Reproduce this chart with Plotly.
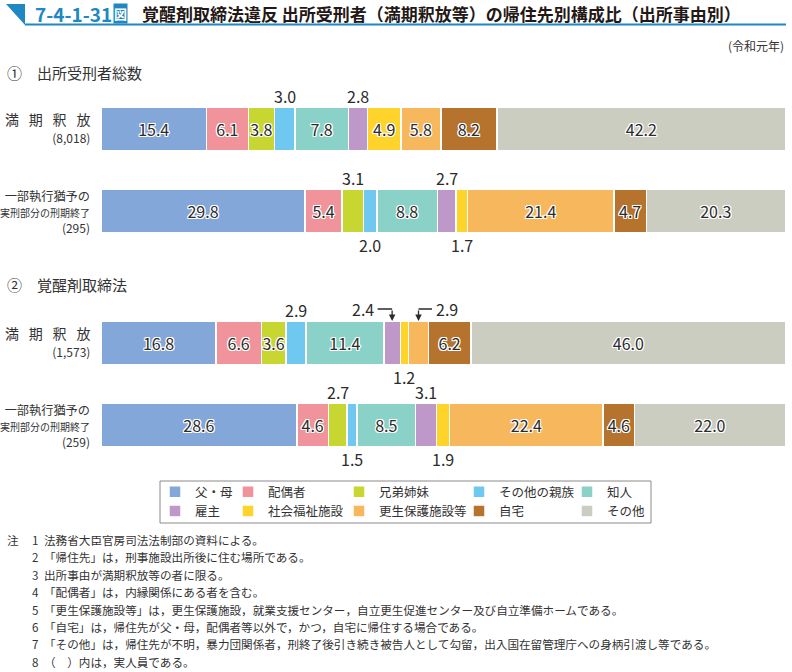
import plotly.graph_objects as go
from plotly.subplots import make_subplots

FONT = "Noto Sans CJK JP"
TEAL = "#1f87c1"

CATEGORIES = ["父・母", "配偶者", "兄弟姉妹", "その他の親族", "知人",
              "雇主", "社会福祉施設", "更生保護施設等", "自宅", "その他"]
COLORS = ["#84a7da", "#f0939a", "#c8d631", "#6ec8f0", "#8ad2c7",
          "#be98c9", "#ffd42a", "#f7b75d", "#b5732e", "#cbcdc0"]

ROWS = ["満期釈放", "一部執行猶予"]

# ① 出所受刑者総数
TOTAL_MANKI = [15.4, 6.1, 3.8, 3.0, 7.8, 2.8, 4.9, 5.8, 8.2, 42.2]
TOTAL_ICHIBU = [29.8, 5.4, 3.1, 2.0, 8.8, 2.7, 1.7, 21.4, 4.7, 20.3]
# ② 覚醒剤取締法
KAKUSEI_MANKI = [16.8, 6.6, 3.6, 2.9, 11.4, 2.4, 1.2, 2.9, 6.2, 46.0]
KAKUSEI_ICHIBU = [28.6, 4.6, 2.7, 1.5, 8.5, 3.1, 1.9, 22.4, 4.6, 22.0]

COUNTS = [["8,018", "295"], ["1,573", "259"]]
SECTIONS = ["①　出所受刑者総数", "②　覚醒剤取締法"]

# labels drawn outside the bar: (section, row, category index) -> placement
OUTSIDE = {
    (0, 0, 3): "above", (0, 0, 5): "above",
    (0, 1, 2): "above", (0, 1, 3): "below", (0, 1, 5): "above", (0, 1, 6): "below",
    (1, 0, 3): "above", (1, 0, 5): "arrow_left", (1, 0, 6): "below", (1, 0, 7): "arrow_right",
    (1, 1, 2): "above", (1, 1, 3): "below", (1, 1, 5): "above", (1, 1, 6): "below",
}

NOTES = [
    ("注", "1", "法務省大臣官房司法法制部の資料による。"),
    ("", "2", "「帰住先」は，刑事施設出所後に住む場所である。"),
    ("", "3", "出所事由が満期釈放等の者に限る。"),
    ("", "4", "「配偶者」は，内縁関係にある者を含む。"),
    ("", "5", "「更生保護施設等」は，更生保護施設，就業支援センター，自立更生促進センター及び自立準備ホームである。"),
    ("", "6", "「自宅」は，帰住先が父・母，配偶者等以外で，かつ，自宅に帰住する場合である。"),
    ("", "7", "「その他」は，帰住先が不明，暴力団関係者，刑終了後引き続き被告人として勾留，出入国在留管理庁への身柄引渡し等である。"),
    ("", "8", "（　）内は，実人員である。"),
]

data = [[TOTAL_MANKI, TOTAL_ICHIBU], [KAKUSEI_MANKI, KAKUSEI_ICHIBU]]

W, H = 792, 672
HALO = ("1px 1px 0 #fff, -1px -1px 0 #fff, 1px -1px 0 #fff, -1px 1px 0 #fff, "
        "0 1px 0 #fff, 0 -1px 0 #fff, 1px 0 0 #fff, -1px 0 0 #fff")

fig = make_subplots(rows=2, cols=1)

for s in range(2):
    for k, cat in enumerate(CATEGORIES):
        vals = [data[s][0][k], data[s][1][k]]
        texts = ["" if (s, r, k) in OUTSIDE else f"{vals[r]:.1f}" for r in range(2)]
        fig.add_trace(go.Bar(
            x=vals, y=ROWS, orientation="h",
            name=cat,
            marker=dict(color=COLORS[k], line=dict(color="white", width=1.5)),
            text=texts, textposition="inside", insidetextanchor="middle",
            constraintext="none", textangle=0,
            textfont=dict(family=FONT, size=16, color="#2b2b2b", shadow=HALO),
            showlegend=(s == 0),
            legend="legend" if k % 5 == 0 else f"legend{k % 5 + 1}",
            hoverinfo="skip",
        ), row=s + 1, col=1)

annotations = []

# outside labels
for (s, r, k), place in OUTSIDE.items():
    vals = data[s][r]
    center = sum(vals[:k]) + vals[k] / 2
    xr, yr = ("x", "y") if s == 0 else ("x2", "y2")
    label = f"{vals[k]:.1f}"
    font = dict(family=FONT, size=16, color="#2b2b2b")
    if place in ("above", "below"):
        annotations.append(dict(x=center, y=ROWS[r], xref=xr, yref=yr, text=label,
                                showarrow=False, font=font,
                                yshift=33 if place == "above" else -34))
    else:
        left = place == "arrow_left"
        # label with a horizontal leader line to the segment centre
        annotations.append(dict(x=center, y=ROWS[r], xref=xr, yref=yr, text=label,
                                showarrow=True, arrowhead=0, arrowwidth=1.3,
                                arrowcolor="#2b2b2b", standoff=0, borderpad=3,
                                ax=-29 if left else 28, ay=0, yshift=34, font=font))
        # vertical arrow down onto the bar
        annotations.append(dict(x=center, y=ROWS[r], xref=xr, yref=yr, text="",
                                showarrow=True, ax=0, ay=-12, yshift=22,
                                arrowhead=2, arrowsize=1, arrowwidth=1.3,
                                arrowcolor="#2b2b2b"))

# row labels
for s in range(2):
    yr = "y" if s == 0 else "y2"
    annotations.append(dict(
        x=92 / W, y=ROWS[0], xref="paper", yref=yr, xanchor="right", align="right",
        text=(f"満\u2002\u2009期\u2002\u2009釈\u2002\u2009放<br>"
              f"<span style='font-size:12px'>({COUNTS[s][0]})</span>"),
        showarrow=False, font=dict(family=FONT, size=14, color="#333333"), yshift=1))
    annotations.append(dict(
        x=92 / W, y=ROWS[1], xref="paper", yref=yr, xanchor="right", align="right",
        text=(f"一部執行猶予の<br><span style='font-size:10px'>実刑部分の刑期終了</span><br>"
              f"<span style='font-size:12px'>({COUNTS[s][1]})</span>"),
        showarrow=False, font=dict(family=FONT, size=12.2, color="#333333")))

# section headers
for txt, ypx in zip(SECTIONS, [73, 285]):
    annotations.append(dict(x=5 / W, y=1 - ypx / H, xref="paper", yref="paper",
                            xanchor="left", yanchor="middle", text=txt, showarrow=False,
                            font=dict(family=FONT, size=15, color="#333333")))

# title
annotations += [
    dict(x=33 / W, y=1 - 13 / H, xref="paper", yref="paper", xanchor="left", yanchor="middle",
         text="<b>7-4-1-31</b>", showarrow=False, font=dict(family=FONT, size=19, color=TEAL)),
    dict(x=113 / W, y=1 - 13 / H, xref="paper", yref="paper", xanchor="left", yanchor="middle",
         text="<b>図</b>", showarrow=False, bgcolor=TEAL, borderpad=0,
         font=dict(family=FONT, size=13, color="white")),
    dict(x=140 / W, y=1 - 13 / H, xref="paper", yref="paper", xanchor="left", yanchor="middle",
         text="<b>覚醒剤取締法違反 出所受刑者（満期釈放等）の帰住先別構成比（出所事由別）</b>",
         showarrow=False, font=dict(family=FONT, size=17, color="#231815")),
    dict(x=786 / W, y=1 - 46 / H, xref="paper", yref="paper", xanchor="right", yanchor="middle",
         text="(令和元年)", showarrow=False, font=dict(family=FONT, size=12, color="#333333")),
]
shapes = [
    dict(type="path", xref="paper", yref="paper",
         path=f"M {6 / W},{1 - 4 / H} L {25 / W},{1 - 4 / H} L {25 / W},{1 - 25 / H} Z",
         fillcolor=TEAL, line=dict(width=0)),
    dict(type="line", xref="paper", yref="paper", x0=25 / W, x1=786 / W,
         y0=1 - 24.5 / H, y1=1 - 24.5 / H, line=dict(color=TEAL, width=2)),
    # legend frame
    dict(type="rect", xref="paper", yref="paper", x0=160 / W, x1=651 / W,
         y0=1 - 523 / H, y1=1 - 481 / H, line=dict(color="#8a8a8a", width=1)),
]

# notes
for i, (head, num, txt) in enumerate(NOTES):
    ypx = 540 + i * 17.4
    for xpx, t in [(5, head), (30, num), (42, txt)]:
        if t:
            annotations.append(dict(x=xpx / W, y=1 - ypx / H, xref="paper", yref="paper",
                                    xanchor="left", yanchor="middle", text=t, showarrow=False,
                                    font=dict(family=FONT, size=11.6, color="#333333")))

# legends: one per column (text start x in px)
legend_cols = [195, 268, 379, 499, 607]
legends = {}
for c, xpx in enumerate(legend_cols):
    key = "legend" if c == 0 else f"legend{c + 1}"
    legends[key] = dict(x=(xpx - 40) / W, y=1 - 477 / H, xanchor="left", yanchor="top",
                        orientation="v", bgcolor="rgba(0,0,0,0)", tracegroupgap=0,
                        itemwidth=30, traceorder="normal",
                        font=dict(family=FONT, size=12.5, color="#333333"))

fig.update_layout(
    width=W, height=H,
    margin=dict(l=0, r=0, t=0, b=0),
    paper_bgcolor="white", plot_bgcolor="white",
    barmode="stack", bargap=0.4634,
    annotations=annotations, shapes=shapes,
    showlegend=True,
    **legends,
)

fig.update_xaxes(domain=[101 / W, 786 / W], range=[0, 100], visible=False, fixedrange=True)
fig.update_yaxes(type="category", range=[1.268, -0.268], autorange=False,
                 visible=False, fixedrange=True)
fig.update_layout(
    yaxis=dict(domain=[1 - 233 / H, 1 - 107 / H]),
    yaxis2=dict(domain=[1 - 447 / H, 1 - 321 / H]),
)

fig.write_html("out.html", config={"displayModeBar": False},
               post_script="document.body.style.margin='0';")
